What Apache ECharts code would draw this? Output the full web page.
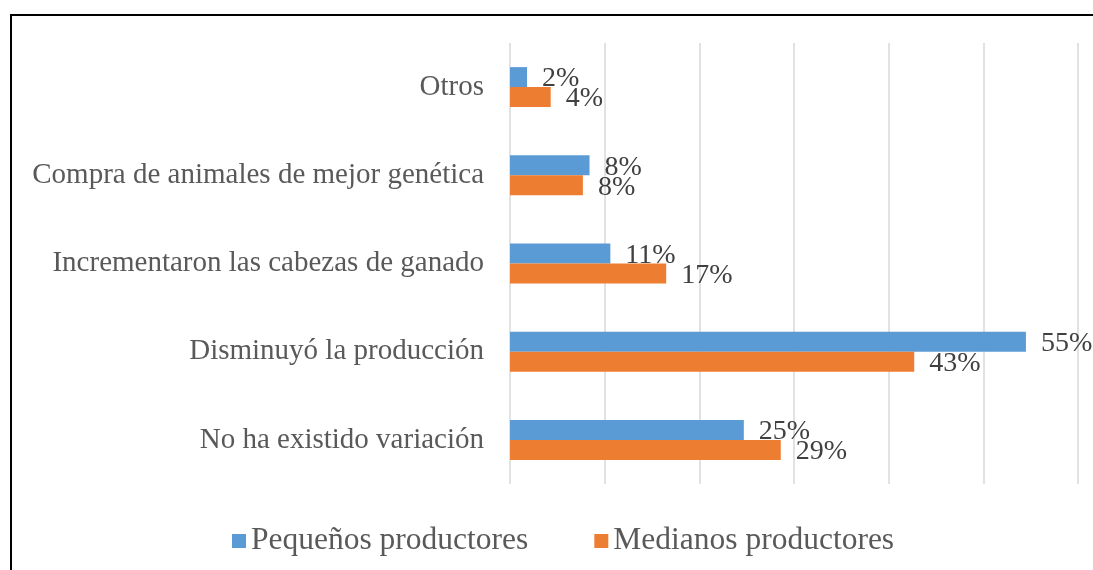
<!DOCTYPE html>
<html>
<head>
<meta charset="utf-8">
<script src="https://cdn.jsdelivr.net/npm/echarts@6/dist/echarts.min.js"></script>
<style>
  html, body { margin: 0; padding: 0; background: #fff; }
  #chart { width: 1093px; height: 570px; }
</style>
</head>
<body>
<div id="chart"></div>
<script>
// categorias, de arriba hacia abajo
const categories = [
  "Otros",
  "Compra de animales de mejor genética",
  "Incrementaron las cabezas de ganado",
  "Disminuyó la producción",
  "No ha existido variación"
];
const seriesNames = ["Pequeños productores", "Medianos productores"];
const pequenos = [1.8, 8.4, 10.6, 54.5, 24.7];
const medianos = [4.3, 7.7, 16.5, 42.7, 28.6];

const serif = "'Liberation Serif', 'Times New Roman', serif";

const labelStyle = {
  show: true,
  position: "right",
  distance: 15,
  offset: [0, 2],
  fontFamily: serif,
  fontSize: 28,
  color: "#404040",
  formatter: p => Math.round(p.value) + "%"
};

const myChart = echarts.init(document.getElementById("chart"));
myChart.setOption({
  animation: false,
  graphic: [
    {
      type: "rect",
      shape: { x: 11, y: 15, width: 1200, height: 700 },
      style: { fill: "none", stroke: "#000", lineWidth: 2 }
    }
  ],
  legend: {
    left: 227,
    top: 520,
    itemWidth: 14,
    itemHeight: 14,
    itemGap: 66,
    icon: "rect",
    textStyle: { fontFamily: serif, fontSize: 31.5, color: "#595959" },
    data: seriesNames
  },
  grid: { left: 510, right: 15, top: 43, bottom: 86 },
  xAxis: {
    type: "value",
    min: 0,
    max: 60,
    interval: 10,
    axisLabel: { show: false },
    axisLine: { show: false },
    axisTick: { show: false },
    splitLine: { lineStyle: { color: "#d9d9d9", width: 1.5 } }
  },
  yAxis: {
    type: "category",
    inverse: true,
    data: categories,
    axisLine: { show: false },
    axisTick: { show: false },
    axisLabel: {
      margin: 26,
      fontFamily: serif,
      fontSize: 29,
      color: "#595959"
    }
  },
  series: [
    {
      name: seriesNames[0],
      type: "bar",
      data: pequenos,
      barWidth: 20,
      barGap: "0%",
      itemStyle: { color: "#5B9BD5" },
      label: labelStyle
    },
    {
      name: seriesNames[1],
      type: "bar",
      data: medianos,
      barWidth: 20,
      barGap: "0%",
      itemStyle: { color: "#ED7D31" },
      label: labelStyle
    }
  ]
});
window.addEventListener("resize", () => {
  myChart.resize();
});
</script>
</body>
</html>
